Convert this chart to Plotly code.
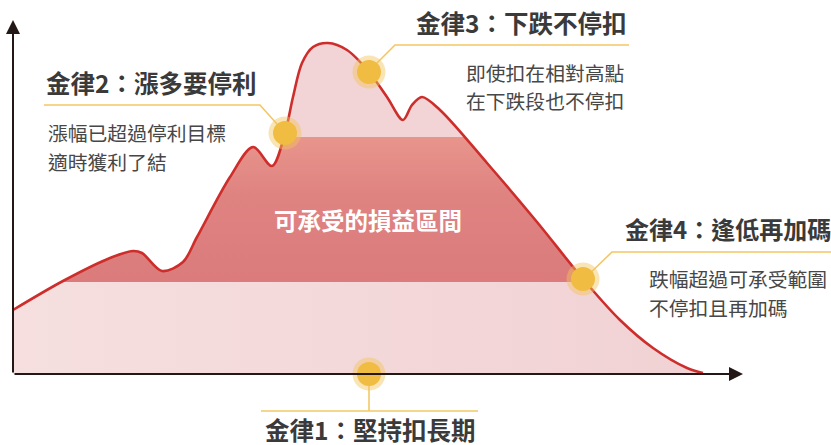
import plotly.graph_objects as go

# ---- data (time units, value units above the baseline) ----
curve_x = [13, 63, 110, 133, 142, 162, 183, 197, 230, 253, 272, 285, 293, 302, 313, 328,
           347, 369, 387, 403, 412, 422, 440, 487, 537, 583, 620, 653, 687, 703]
curve_y = [64, 93, 116, 123, 121, 103, 112, 137, 197, 227, 208, 241, 277, 311, 327, 331,
           324, 302, 277, 254, 269, 277, 264, 211, 152, 95, 54, 26, 6, 1]

band_low = 92      # lower bound of tolerable range
band_high = 237    # upper bound of tolerable range
top_level = 345

rule_x = [369, 285, 369, 583]
rule_y = [0, 241, 302, 95]

x_start, x_end = 13, 703
axis_x_tip, axis_y_tip = 743, 354

FONT = "Noto Sans CJK TC"
TITLE_C = "#3a3a3a"
BODY_C = "#474747"
LEAD_C = "#f3c766"

fig = go.Figure()

# light pink lower zone
fig.add_trace(go.Scatter(
    x=[x_start, x_end, x_end, x_start], y=[0, 0, band_low, band_low],
    fill="toself", mode="none",
    fillgradient=dict(type="horizontal", colorscale=[[0, "#f6dfdf"], [1, "#f1d2d4"]]),
    hoverinfo="skip", showlegend=False))
# dark tolerable band
fig.add_trace(go.Scatter(
    x=[x_start, x_end, x_end, x_start], y=[band_low, band_low, band_high, band_high],
    fill="toself", mode="none",
    fillgradient=dict(type="vertical", colorscale=[[0, "#db7b7c"], [0.6, "#df8381"], [1, "#e8958c"]]),
    hoverinfo="skip", showlegend=False))
# light pink upper zone
fig.add_trace(go.Scatter(
    x=[x_start, x_end, x_end, x_start], y=[band_high, band_high, top_level, top_level],
    fill="toself", mode="none", fillcolor="#f2d4d6",
    hoverinfo="skip", showlegend=False))

# white cover above curve
fig.add_trace(go.Scatter(
    x=[x_start, x_end], y=[top_level + 20, top_level + 20], mode="lines",
    line=dict(width=0, color="white"), hoverinfo="skip", showlegend=False))
fig.add_trace(go.Scatter(
    x=curve_x, y=curve_y, mode="lines", fill="tonexty", fillcolor="white",
    line=dict(color="#cd2e2b", width=2.6, shape="spline", smoothing=0.9),
    hoverinfo="skip", showlegend=False))

# leader lines
leaders = [
    ([44, 260, 285], [269, 269, 241]),
    ([369, 395, 629], [303, 329, 329]),
    ([583, 612, 831], [94, 122, 122]),
    ([369, 369], [0, -37]),
    ([261, 478], [-37, -37]),
]
for lx, ly in leaders:
    fig.add_trace(go.Scatter(x=lx, y=ly, mode="lines", line=dict(color=LEAD_C, width=1.6),
                             hoverinfo="skip", showlegend=False))

# rule dots
fig.add_trace(go.Scatter(x=rule_x, y=rule_y, mode="markers",
                         marker=dict(size=33, color="rgba(242,196,90,0.45)", line=dict(width=0)),
                         hoverinfo="skip", showlegend=False))
fig.add_trace(go.Scatter(x=rule_x, y=rule_y, mode="markers",
                         marker=dict(size=24, color="#f0bc42", line=dict(width=0)),
                         hoverinfo="skip", showlegend=False))

ann = []
# axes arrows
ann.append(dict(x=axis_x_tip, y=0, ax=x_start, ay=0, xref="x", yref="y", axref="x", ayref="y",
                showarrow=True, arrowhead=2, arrowsize=1.4, arrowwidth=2, arrowcolor="#231815", text=""))
ann.append(dict(x=x_start, y=axis_y_tip, ax=x_start, ay=0, xref="x", yref="y", axref="x", ayref="y",
                showarrow=True, arrowhead=2, arrowsize=1.4, arrowwidth=2, arrowcolor="#231815", text=""))


def txt(t, x, y, size, color, bold=False, anchor="left"):
    ann.append(dict(text=f"<b>{t}</b>" if bold else t, x=x, y=y, xref="x", yref="y",
                    xanchor=anchor, yanchor="middle", showarrow=False,
                    font=dict(family=FONT, size=size, color=color)))


TS, BS = 24.5, 19.8
txt("金律2：漲多要停利", 44, 292, TS, TITLE_C, True)
txt("漲幅已超過停利目標", 46, 242, BS, BODY_C)
txt("適時獲利了結", 46, 213, BS, BODY_C)
txt("金律3：下跌不停扣", 414, 352, TS, TITLE_C, True)
txt("即使扣在相對高點", 626, 302, BS, BODY_C, anchor="right")
txt("在下跌段也不停扣", 626, 274, BS, BODY_C, anchor="right")
txt("可承受的損益區間", 368, 154, 23.5, "white", True, anchor="center")
txt("金律4：逢低再加碼", 623, 146, 24, TITLE_C, True)
txt("跌幅超過可承受範圍", 647, 96, BS, BODY_C)
txt("不停扣且再加碼", 647, 67, BS, BODY_C)
txt("金律1：堅持扣長期", 263, -55, TS, TITLE_C, True)

fig.update_layout(
    width=831, height=445, margin=dict(l=0, r=0, t=0, b=0),
    paper_bgcolor="white", plot_bgcolor="white",
    xaxis=dict(range=[0, 831], visible=False, fixedrange=True),
    yaxis=dict(range=[-71, 374], visible=False, fixedrange=True),
    annotations=ann, showlegend=False, hovermode=False)

fig.write_html("out.html", config={"displayModeBar": False, "staticPlot": True},
               post_script="document.body.style.margin='0';document.body.style.overflow='hidden';")
